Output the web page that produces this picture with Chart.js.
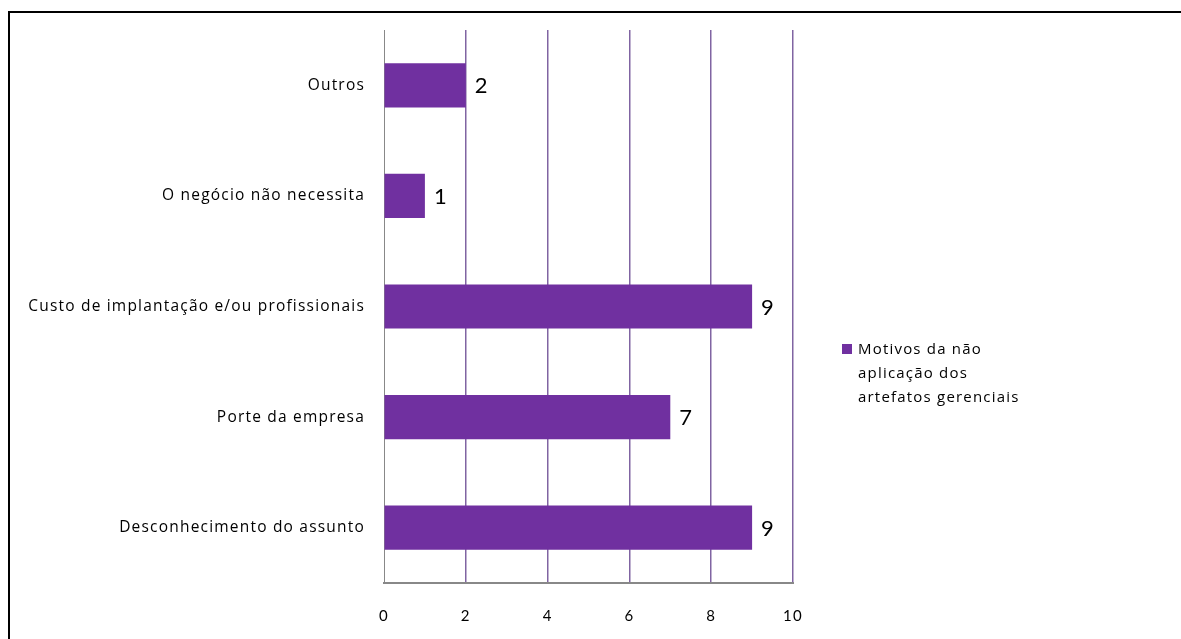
<!DOCTYPE html>
<html>
<head>
<meta charset="utf-8">
<script src="https://cdn.jsdelivr.net/npm/chart.js@4"></script>
<style>
html,body{margin:0;padding:0;background:#fff;}
#wrap{position:relative;width:1181px;height:639px;}
</style>
</head>
<body>
<div id="wrap"><canvas id="c" width="1181" height="639"></canvas></div>
<script>
const categories = ["Outros", "O negócio não necessita", "Custo de implantação e/ou profissionais", "Porte da empresa", "Desconhecimento do assunto"];
const values = [2, 1, 9, 7, 9];
const seriesLabel = ["Motivos da não", "aplicação dos", "artefatos gerenciais"];
const xTicks = [0, 2, 4, 6, 8, 10];

const FONT = "Lato, 'Open Sans', sans-serif";
const TEXTFONT = "'Open Sans', Lato, sans-serif";

const framePlugin = {
  id: 'frame',
  beforeDraw(chart) {
    const ctx = chart.ctx;
    ctx.save();
    ctx.fillStyle = '#fff';
    ctx.fillRect(0, 0, chart.width, chart.height);
    ctx.strokeStyle = '#000';
    ctx.lineWidth = 2;
    ctx.beginPath();
    ctx.moveTo(9, chart.height + 5);
    ctx.lineTo(9, 12);
    ctx.lineTo(chart.width + 5, 12);
    ctx.stroke();
    ctx.restore();
    ctx.letterSpacing = '1.2px';
  }
};

const labelPlugin = {
  id: 'vals',
  afterDatasetsDraw(chart) {
    const ctx = chart.ctx;
    const meta = chart.getDatasetMeta(0);
    ctx.save();
    ctx.letterSpacing = '0px';
    ctx.font = "22px " + FONT;
    ctx.fillStyle = '#000';
    ctx.textAlign = 'left';
    ctx.textBaseline = 'middle';
    meta.data.forEach((bar, i) => {
      ctx.fillText(String(values[i]), bar.x + 9, bar.y + 1);
    });
    ctx.restore();
  }
};

const legendPlugin = {
  id: 'legendBox',
  afterDraw(chart) {
    const ctx = chart.ctx;
    const x = 842, y = 350;
    ctx.save();
    ctx.letterSpacing = '1.2px';
    ctx.fillStyle = '#7030a0';
    ctx.fillRect(x, y - 6, 10, 10);
    ctx.fillStyle = '#000';
    ctx.font = "15px " + TEXTFONT;
    ctx.textAlign = 'left';
    ctx.textBaseline = 'middle';
    seriesLabel.forEach((t, i) => ctx.fillText(t, x + 16, y + i * 24));
    ctx.restore();
  }
};

new Chart(document.getElementById('c'), {
  type: 'bar',
  data: {
    labels: categories,
    datasets: [{
      label: seriesLabel.join(' '),
      data: values,
      backgroundColor: '#7030a0',
      borderWidth: 0,
      barPercentage: 0.4,
      categoryPercentage: 1.0
    }]
  },
  options: {
    indexAxis: 'y',
    responsive: false,
    animation: false,
    layout: { padding: { top: 30, right: 388, bottom: 0, left: 0 } },
    plugins: { legend: { display: false }, tooltip: { enabled: false } },
    scales: {
      x: {
        min: 0, max: 10,
        afterBuildTicks(axis) { axis.ticks = xTicks.map(v => ({ value: v })); },
        afterFit(axis) { axis.height = 56; },
        grid: {
          color: (c) => c.tick && c.tick.value === 0 ? '#888' : '#8064a2',
          lineWidth: (c) => c.tick && c.tick.value === 0 ? 1 : 1.5,
          drawTicks: false
        },
        border: { color: '#888', width: 2 },
        ticks: { color: '#000', padding: 24, font: { family: FONT, size: 15 }, maxRotation: 0 }
      },
      y: {
        afterFit(axis) { axis.width = 384; },
        grid: { display: false, drawTicks: false },
        border: { color: '#888', width: 1 },
        ticks: { color: '#000', padding: 19, font: { family: TEXTFONT, size: 15.5 } }
      }
    }
  },
  plugins: [framePlugin, labelPlugin, legendPlugin]
});
</script>
</body>
</html>
